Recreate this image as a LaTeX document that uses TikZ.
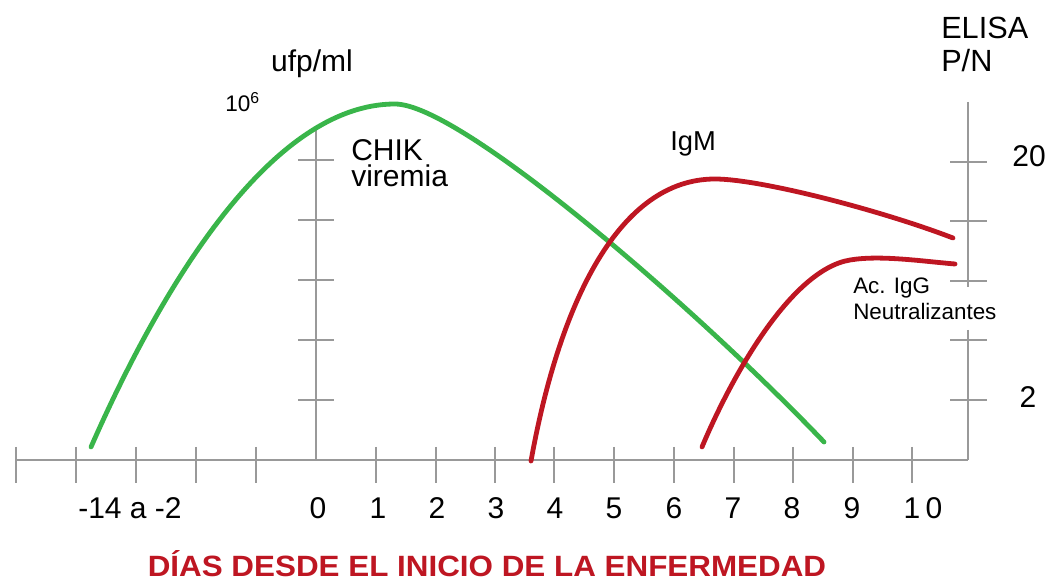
\documentclass[tikz,border=0pt]{standalone}
\usepackage{fontspec}
\setmainfont{Liberation Sans}
\usepackage{xcolor}
\usepackage{graphicx}
\usepackage{tikz}

\definecolor{virgreen}{RGB}{57,181,74}
\definecolor{abred}{RGB}{190,22,34}
\definecolor{axgray}{RGB}{153,153,153}

\begin{document}
\begin{tikzpicture}[x=0.75pt,y=0.75pt,yscale=-1,xscale=1,
    axisline/.style={draw=axgray,line width=1.9pt},
    tickline/.style={draw=axgray,line width=1.7pt},
    curvegreen/.style={draw=virgreen,line width=3.6pt,line cap=round},
    curvered/.style={draw=abred,line width=3.6pt,line cap=round},
    bigtext/.style={inner sep=0pt,font=\fontsize{22.5}{20}\selectfont},
    smalltext/.style={inner sep=0pt,font=\fontsize{16.8}{20}\selectfont}]
        \useasboundingbox (0,0) rectangle (1049,580);

        %Straight Lines [x axis]
        \draw [axisline] (16,460) -- (968,460) ;
        %Straight Lines [left axis]
        \draw [axisline] (316,130) -- (316,460) ;
        %Straight Lines [right axis, upper part]
        \draw [axisline] (968,102) -- (968,287) ;
        %Straight Lines [right axis, lower part]
        \draw [axisline] (968,330) -- (968,460) ;

        %Ticks on the day axis
        \draw [tickline] (16,447) -- (16,483) ;
        \draw [tickline] (76,447) -- (76,483) ;
        \draw [tickline] (136,447) -- (136,483) ;
        \draw [tickline] (196,447) -- (196,483) ;
        \draw [tickline] (256,447) -- (256,483) ;
        \draw [tickline] (376,447) -- (376,483) ;
        \draw [tickline] (436,447) -- (436,483) ;
        \draw [tickline] (495,447) -- (495,483) ;
        \draw [tickline] (554,447) -- (554,483) ;
        \draw [tickline] (614,447) -- (614,483) ;
        \draw [tickline] (674,447) -- (674,483) ;
        \draw [tickline] (734,447) -- (734,483) ;
        \draw [tickline] (793,447) -- (793,483) ;
        \draw [tickline] (853,447) -- (853,483) ;
        \draw [tickline] (912,447) -- (912,483) ;

        %Ticks on the ufp/ml axis
        \draw [tickline] (298,160) -- (334,160) ;
        \draw [tickline] (298,220) -- (334,220) ;
        \draw [tickline] (298,280) -- (334,280) ;
        \draw [tickline] (298,340) -- (334,340) ;
        \draw [tickline] (298,400) -- (334,400) ;

        %Ticks on the ELISA axis
        \draw [tickline] (950,162) -- (987,162) ;
        \draw [tickline] (950,221) -- (987,221) ;
        \draw [tickline] (950,281) -- (987,281) ;
        \draw [tickline] (950,340) -- (987,340) ;
        \draw [tickline] (950,400) -- (987,400) ;

        %Curve Lines [viremia]
        \draw [curvegreen] (91,447) .. controls (160,290) and (270,104) .. (395,104) .. controls (460,104) and (694,306) .. (824,442) ;
        %Curve Lines [IgM]
        \draw [curvered] (531,461) .. controls (560,300) and (620,179) .. (715,179) .. controls (760,179) and (880,210) .. (953,238) ;
        %Curve Lines [IgG]
        \draw [curvered] (702,447) .. controls (730,380) and (790,270) .. (850,260) .. controls (880,255) and (920,261) .. (955,264) ;

        % Text Node
        \node (ufp) at (312,72) [bigtext,anchor=base] {ufp/ml};
        % Text Node
        \node (diezseis) at (225,112) [inner sep=0pt,anchor=base west,font=\fontsize{16.9}{20}\selectfont] {10\textsuperscript{6}};
        % Text Node (base = last line)
        \node (chik) at (351,187) [bigtext,anchor=base west,align=left] {CHIK\\viremia};
        % Text Node
        \node (igm) at (670,151) [inner sep=0pt,anchor=base west,font=\fontsize{20.5}{20}\selectfont] {IgM};
        % Text Node (base = last line)
        \node (igg) at (853,320) [smalltext,anchor=base west,align=left] {Ac. IgG\\Neutralizantes};
        % Text Node (base = last line)
        \node (elisa) at (941,72) [inner sep=0pt,anchor=base west,align=left,font=\fontsize{23}{24.75}\selectfont] {ELISA\\P/N};
        % Text Node
        \node (veinte) at (1029,167) [bigtext,anchor=base] {20};
        % Text Node
        \node (dos) at (1028,408) [bigtext,anchor=base] {2};

        % Text Node
        \node (dmenos) at (130,518) [bigtext,anchor=base] {-14 a -2};
        % Text Node
        \node (d0) at (318,518) [bigtext,anchor=base] {0};
        % Text Node
        \node (d1) at (378,518) [bigtext,anchor=base] {1};
        % Text Node
        \node (d2) at (437,518) [bigtext,anchor=base] {2};
        % Text Node
        \node (d3) at (496,518) [bigtext,anchor=base] {3};
        % Text Node
        \node (d4) at (555,518) [bigtext,anchor=base] {4};
        % Text Node
        \node (d5) at (614,518) [bigtext,anchor=base] {5};
        % Text Node
        \node (d6) at (674,518) [bigtext,anchor=base] {6};
        % Text Node
        \node (d7) at (733,518) [bigtext,anchor=base] {7};
        % Text Node
        \node (d8) at (792,518) [bigtext,anchor=base] {8};
        % Text Node
        \node (d9) at (852,518) [bigtext,anchor=base] {9};
        % Text Node
        \node (d10) at (923,518) [bigtext,anchor=base] {1\kern4pt 0};

        % Text Node
        \node (titulo) at (487,576) [inner sep=0pt,anchor=base,text=abred] {\scalebox{1.07}[1]{\bfseries\fontsize{22}{26}\selectfont DÍAS DESDE EL INICIO DE LA ENFERMEDAD}};
\end{tikzpicture}
\end{document}
